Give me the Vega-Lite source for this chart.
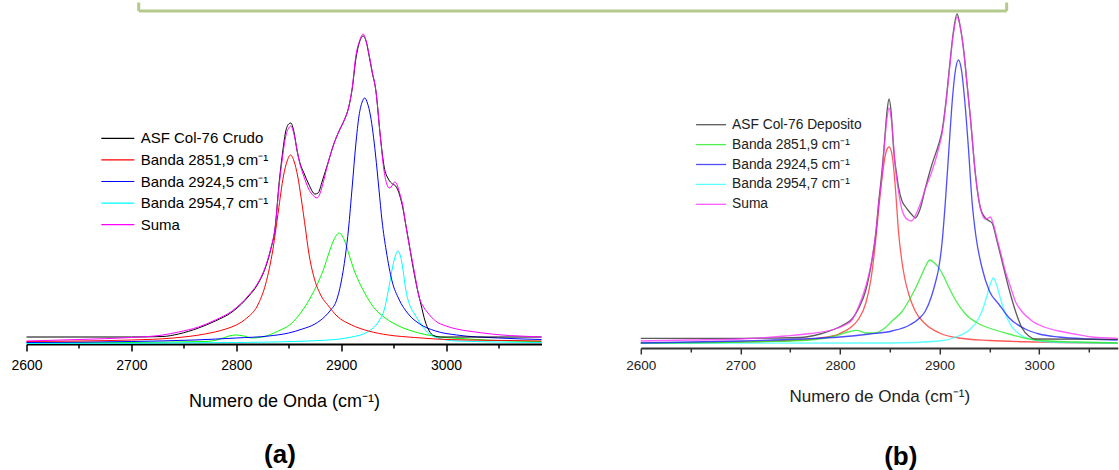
{
  "$schema": "https://vega.github.io/schema/vega-lite/v6.json",
  "padding": {"left": 10.5, "top": 0, "right": 0, "bottom": 0},
  "bounds": "flush",
  "spacing": 99.3,
  "config": {
    "font": "Liberation Sans",
    "view": {"stroke": null},
    "title": {"font": "Liberation Sans", "color": "#000000"},
    "legend": {"labelFont": "Liberation Sans"},
    "axis": {"labelFont": "Liberation Sans", "titleFont": "Liberation Sans", "grid": false}
  },
  "datasets": {
    "a": [
      {"s":"Banda 2898","x":2600,"y":1},{"s":"Banda 2898","x":2700,"y":1.5},{"s":"Banda 2898","x":2770,"y":2.5},{"s":"Banda 2898","x":2785,"y":5},{"s":"Banda 2898","x":2793,"y":8},{"s":"Banda 2898","x":2800,"y":9},{"s":"Banda 2898","x":2807,"y":8},{"s":"Banda 2898","x":2815,"y":6},{"s":"Banda 2898","x":2825,"y":7},{"s":"Banda 2898","x":2840,"y":13},{"s":"Banda 2898","x":2852,"y":20},{"s":"Banda 2898","x":2862.7,"y":33},{"s":"Banda 2898","x":2870,"y":45},{"s":"Banda 2898","x":2878.6,"y":63},{"s":"Banda 2898","x":2884,"y":77},{"s":"Banda 2898","x":2888,"y":90},{"s":"Banda 2898","x":2893,"y":104},{"s":"Banda 2898","x":2898,"y":111},{"s":"Banda 2898","x":2903,"y":104},{"s":"Banda 2898","x":2907.3,"y":90},{"s":"Banda 2898","x":2913,"y":72},{"s":"Banda 2898","x":2918,"y":60},{"s":"Banda 2898","x":2923,"y":50},{"s":"Banda 2898","x":2930,"y":38},{"s":"Banda 2898","x":2942,"y":26},{"s":"Banda 2898","x":2955,"y":18},{"s":"Banda 2898","x":2974,"y":11},{"s":"Banda 2898","x":2995,"y":7},{"s":"Banda 2898","x":3021,"y":5},{"s":"Banda 2898","x":3060,"y":3},{"s":"Banda 2898","x":3091,"y":2.5},

      {"s":"Banda 2954,7 cm⁻¹","x":2600,"y":0.5},{"s":"Banda 2954,7 cm⁻¹","x":2800,"y":1.5},{"s":"Banda 2954,7 cm⁻¹","x":2880,"y":3.5},{"s":"Banda 2954,7 cm⁻¹","x":2910,"y":7},{"s":"Banda 2954,7 cm⁻¹","x":2925,"y":12},{"s":"Banda 2954,7 cm⁻¹","x":2936,"y":23},{"s":"Banda 2954,7 cm⁻¹","x":2941,"y":34},{"s":"Banda 2954,7 cm⁻¹","x":2945.4,"y":56},{"s":"Banda 2954,7 cm⁻¹","x":2949,"y":77},{"s":"Banda 2954,7 cm⁻¹","x":2952,"y":89},{"s":"Banda 2954,7 cm⁻¹","x":2954,"y":93},{"s":"Banda 2954,7 cm⁻¹","x":2956.5,"y":88},{"s":"Banda 2954,7 cm⁻¹","x":2959,"y":74},{"s":"Banda 2954,7 cm⁻¹","x":2961.3,"y":56},{"s":"Banda 2954,7 cm⁻¹","x":2965,"y":40},{"s":"Banda 2954,7 cm⁻¹","x":2970,"y":30},{"s":"Banda 2954,7 cm⁻¹","x":2974,"y":23},{"s":"Banda 2954,7 cm⁻¹","x":2982,"y":12},{"s":"Banda 2954,7 cm⁻¹","x":2992,"y":6},{"s":"Banda 2954,7 cm⁻¹","x":3010,"y":3},{"s":"Banda 2954,7 cm⁻¹","x":3091,"y":1.5},

      {"s":"Banda 2924,5 cm⁻¹","x":2600,"y":1.5},{"s":"Banda 2924,5 cm⁻¹","x":2700,"y":2.5},{"s":"Banda 2924,5 cm⁻¹","x":2760,"y":4},{"s":"Banda 2924,5 cm⁻¹","x":2800,"y":6},{"s":"Banda 2924,5 cm⁻¹","x":2831,"y":8},{"s":"Banda 2924,5 cm⁻¹","x":2850,"y":11},{"s":"Banda 2924,5 cm⁻¹","x":2863,"y":15},{"s":"Banda 2924,5 cm⁻¹","x":2875,"y":20},{"s":"Banda 2924,5 cm⁻¹","x":2885,"y":28},{"s":"Banda 2924,5 cm⁻¹","x":2890,"y":34},{"s":"Banda 2924,5 cm⁻¹","x":2895,"y":42},{"s":"Banda 2924,5 cm⁻¹","x":2900,"y":62},{"s":"Banda 2924,5 cm⁻¹","x":2904,"y":88},{"s":"Banda 2924,5 cm⁻¹","x":2907,"y":115},{"s":"Banda 2924,5 cm⁻¹","x":2910.5,"y":157},{"s":"Banda 2924,5 cm⁻¹","x":2914,"y":200},{"s":"Banda 2924,5 cm⁻¹","x":2917,"y":228},{"s":"Banda 2924,5 cm⁻¹","x":2920,"y":242},{"s":"Banda 2924,5 cm⁻¹","x":2922.5,"y":246},{"s":"Banda 2924,5 cm⁻¹","x":2925,"y":241},{"s":"Banda 2924,5 cm⁻¹","x":2928,"y":228},{"s":"Banda 2924,5 cm⁻¹","x":2932.7,"y":190},{"s":"Banda 2924,5 cm⁻¹","x":2936,"y":155},{"s":"Banda 2924,5 cm⁻¹","x":2939,"y":123},{"s":"Banda 2924,5 cm⁻¹","x":2943,"y":93},{"s":"Banda 2924,5 cm⁻¹","x":2948.5,"y":63},{"s":"Banda 2924,5 cm⁻¹","x":2955,"y":45},{"s":"Banda 2924,5 cm⁻¹","x":2964,"y":30},{"s":"Banda 2924,5 cm⁻¹","x":2975,"y":20},{"s":"Banda 2924,5 cm⁻¹","x":2990,"y":13},{"s":"Banda 2924,5 cm⁻¹","x":3010,"y":9},{"s":"Banda 2924,5 cm⁻¹","x":3050,"y":6},{"s":"Banda 2924,5 cm⁻¹","x":3091,"y":4.5},

      {"s":"Banda 2851,9 cm⁻¹","x":2600,"y":2.5},{"s":"Banda 2851,9 cm⁻¹","x":2650,"y":3},{"s":"Banda 2851,9 cm⁻¹","x":2700,"y":4},{"s":"Banda 2851,9 cm⁻¹","x":2740,"y":6},{"s":"Banda 2851,9 cm⁻¹","x":2770,"y":10},{"s":"Banda 2851,9 cm⁻¹","x":2790,"y":15},{"s":"Banda 2851,9 cm⁻¹","x":2800,"y":19},{"s":"Banda 2851,9 cm⁻¹","x":2810,"y":26},{"s":"Banda 2851,9 cm⁻¹","x":2820,"y":38},{"s":"Banda 2851,9 cm⁻¹","x":2828,"y":60},{"s":"Banda 2851,9 cm⁻¹","x":2835,"y":95},{"s":"Banda 2851,9 cm⁻¹","x":2840,"y":132},{"s":"Banda 2851,9 cm⁻¹","x":2845,"y":168},{"s":"Banda 2851,9 cm⁻¹","x":2848.5,"y":183},{"s":"Banda 2851,9 cm⁻¹","x":2851.7,"y":189},{"s":"Banda 2851,9 cm⁻¹","x":2855,"y":183},{"s":"Banda 2851,9 cm⁻¹","x":2858.5,"y":168},{"s":"Banda 2851,9 cm⁻¹","x":2862,"y":145},{"s":"Banda 2851,9 cm⁻¹","x":2866,"y":115},{"s":"Banda 2851,9 cm⁻¹","x":2869,"y":92},{"s":"Banda 2851,9 cm⁻¹","x":2874,"y":67},{"s":"Banda 2851,9 cm⁻¹","x":2880,"y":50},{"s":"Banda 2851,9 cm⁻¹","x":2888,"y":38},{"s":"Banda 2851,9 cm⁻¹","x":2896,"y":28},{"s":"Banda 2851,9 cm⁻¹","x":2910,"y":19},{"s":"Banda 2851,9 cm⁻¹","x":2926,"y":13},{"s":"Banda 2851,9 cm⁻¹","x":2945,"y":9},{"s":"Banda 2851,9 cm⁻¹","x":2970,"y":6.5},{"s":"Banda 2851,9 cm⁻¹","x":2990,"y":5},{"s":"Banda 2851,9 cm⁻¹","x":3020,"y":4},{"s":"Banda 2851,9 cm⁻¹","x":3060,"y":3.5},{"s":"Banda 2851,9 cm⁻¹","x":3091,"y":3},

      {"s":"ASF Col-76 Crudo","x":2600,"y":7},{"s":"ASF Col-76 Crudo","x":2650,"y":7},{"s":"ASF Col-76 Crudo","x":2700,"y":7},{"s":"ASF Col-76 Crudo","x":2730,"y":7.5},{"s":"ASF Col-76 Crudo","x":2745,"y":10},{"s":"ASF Col-76 Crudo","x":2764,"y":16},{"s":"ASF Col-76 Crudo","x":2780,"y":23},{"s":"ASF Col-76 Crudo","x":2796,"y":32},{"s":"ASF Col-76 Crudo","x":2805,"y":40},{"s":"ASF Col-76 Crudo","x":2812,"y":48},{"s":"ASF Col-76 Crudo","x":2820,"y":59},{"s":"ASF Col-76 Crudo","x":2828,"y":77},{"s":"ASF Col-76 Crudo","x":2833,"y":95},{"s":"ASF Col-76 Crudo","x":2837,"y":116},{"s":"ASF Col-76 Crudo","x":2841,"y":163},{"s":"ASF Col-76 Crudo","x":2844,"y":190},{"s":"ASF Col-76 Crudo","x":2847,"y":212},{"s":"ASF Col-76 Crudo","x":2850,"y":220},{"s":"ASF Col-76 Crudo","x":2852,"y":221},{"s":"ASF Col-76 Crudo","x":2855,"y":212},{"s":"ASF Col-76 Crudo","x":2858,"y":193},{"s":"ASF Col-76 Crudo","x":2861,"y":180},{"s":"ASF Col-76 Crudo","x":2864.5,"y":171},{"s":"ASF Col-76 Crudo","x":2869,"y":160},{"s":"ASF Col-76 Crudo","x":2875,"y":150},{"s":"ASF Col-76 Crudo","x":2878,"y":151},{"s":"ASF Col-76 Crudo","x":2882,"y":163},{"s":"ASF Col-76 Crudo","x":2888,"y":183},{"s":"ASF Col-76 Crudo","x":2893,"y":200},{"s":"ASF Col-76 Crudo","x":2898,"y":213},{"s":"ASF Col-76 Crudo","x":2903,"y":224},{"s":"ASF Col-76 Crudo","x":2907,"y":236},{"s":"ASF Col-76 Crudo","x":2910.5,"y":255},{"s":"ASF Col-76 Crudo","x":2914,"y":285},{"s":"ASF Col-76 Crudo","x":2917.5,"y":302},{"s":"ASF Col-76 Crudo","x":2921,"y":308},{"s":"ASF Col-76 Crudo","x":2924,"y":302},{"s":"ASF Col-76 Crudo","x":2926.5,"y":289},{"s":"ASF Col-76 Crudo","x":2929.5,"y":272},{"s":"ASF Col-76 Crudo","x":2933,"y":254},{"s":"ASF Col-76 Crudo","x":2937.5,"y":206},{"s":"ASF Col-76 Crudo","x":2941,"y":177},{"s":"ASF Col-76 Crudo","x":2945,"y":165},{"s":"ASF Col-76 Crudo","x":2949,"y":160},{"s":"ASF Col-76 Crudo","x":2952,"y":158},{"s":"ASF Col-76 Crudo","x":2956,"y":148},{"s":"ASF Col-76 Crudo","x":2959,"y":135},{"s":"ASF Col-76 Crudo","x":2961,"y":123},{"s":"ASF Col-76 Crudo","x":2964,"y":105},{"s":"ASF Col-76 Crudo","x":2968,"y":80},{"s":"ASF Col-76 Crudo","x":2972,"y":58},{"s":"ASF Col-76 Crudo","x":2976,"y":40},{"s":"ASF Col-76 Crudo","x":2980,"y":23},{"s":"ASF Col-76 Crudo","x":2984,"y":13},{"s":"ASF Col-76 Crudo","x":2988,"y":8.5},{"s":"ASF Col-76 Crudo","x":2995,"y":7},{"s":"ASF Col-76 Crudo","x":3050,"y":7},{"s":"ASF Col-76 Crudo","x":3091,"y":7},

      {"s":"Suma","x":2600,"y":3},{"s":"Suma","x":2650,"y":4.5},{"s":"Suma","x":2700,"y":6.5},{"s":"Suma","x":2730,"y":9},{"s":"Suma","x":2745,"y":12},{"s":"Suma","x":2764,"y":17},{"s":"Suma","x":2780,"y":24},{"s":"Suma","x":2796,"y":33},{"s":"Suma","x":2805,"y":41},{"s":"Suma","x":2812,"y":49},{"s":"Suma","x":2820,"y":60},{"s":"Suma","x":2828,"y":78},{"s":"Suma","x":2833,"y":96},{"s":"Suma","x":2837,"y":116},{"s":"Suma","x":2841,"y":160},{"s":"Suma","x":2844,"y":186},{"s":"Suma","x":2847,"y":207},{"s":"Suma","x":2850,"y":216},{"s":"Suma","x":2852,"y":218},{"s":"Suma","x":2855,"y":210},{"s":"Suma","x":2858,"y":194},{"s":"Suma","x":2860,"y":183},{"s":"Suma","x":2863,"y":172},{"s":"Suma","x":2866,"y":163},{"s":"Suma","x":2869,"y":155},{"s":"Suma","x":2872,"y":150},{"s":"Suma","x":2875,"y":147},{"s":"Suma","x":2877,"y":146},{"s":"Suma","x":2880,"y":151},{"s":"Suma","x":2883,"y":162},{"s":"Suma","x":2888,"y":183},{"s":"Suma","x":2893,"y":200},{"s":"Suma","x":2898,"y":213},{"s":"Suma","x":2903,"y":224},{"s":"Suma","x":2907,"y":236},{"s":"Suma","x":2910.5,"y":256},{"s":"Suma","x":2914,"y":288},{"s":"Suma","x":2917.5,"y":303},{"s":"Suma","x":2921,"y":310},{"s":"Suma","x":2924,"y":302},{"s":"Suma","x":2926.5,"y":290},{"s":"Suma","x":2929.5,"y":273},{"s":"Suma","x":2933,"y":254},{"s":"Suma","x":2937.5,"y":206},{"s":"Suma","x":2940.5,"y":176},{"s":"Suma","x":2943.5,"y":160},{"s":"Suma","x":2946,"y":156},{"s":"Suma","x":2949,"y":159},{"s":"Suma","x":2951,"y":162},{"s":"Suma","x":2953,"y":160},{"s":"Suma","x":2956,"y":150},{"s":"Suma","x":2959,"y":137},{"s":"Suma","x":2961,"y":123},{"s":"Suma","x":2964,"y":104},{"s":"Suma","x":2968,"y":82},{"s":"Suma","x":2971,"y":65},{"s":"Suma","x":2974,"y":48},{"s":"Suma","x":2978,"y":38},{"s":"Suma","x":2982,"y":32},{"s":"Suma","x":2990,"y":23},{"s":"Suma","x":3000,"y":18},{"s":"Suma","x":3010,"y":15},{"s":"Suma","x":3021,"y":13},{"s":"Suma","x":3035,"y":11},{"s":"Suma","x":3053,"y":9},{"s":"Suma","x":3070,"y":8},{"s":"Suma","x":3091,"y":7}
    ],
    "b": [
      {"s":"Banda 2849","x":2600,"y":5},{"s":"Banda 2849","x":2700,"y":6},{"s":"Banda 2849","x":2750,"y":7.5},{"s":"Banda 2849","x":2780,"y":10},{"s":"Banda 2849","x":2798.8,"y":14},{"s":"Banda 2849","x":2810,"y":20},{"s":"Banda 2849","x":2818,"y":28},{"s":"Banda 2849","x":2826,"y":45},{"s":"Banda 2849","x":2831,"y":68},{"s":"Banda 2849","x":2835.6,"y":105},{"s":"Banda 2849","x":2839,"y":140},{"s":"Banda 2849","x":2842.5,"y":172},{"s":"Banda 2849","x":2846,"y":195},{"s":"Banda 2849","x":2849.3,"y":201},{"s":"Banda 2849","x":2852.5,"y":192},{"s":"Banda 2849","x":2855.5,"y":162},{"s":"Banda 2849","x":2859,"y":114},{"s":"Banda 2849","x":2862,"y":88},{"s":"Banda 2849","x":2865,"y":70},{"s":"Banda 2849","x":2869,"y":54},{"s":"Banda 2849","x":2875,"y":38},{"s":"Banda 2849","x":2885.8,"y":24},{"s":"Banda 2849","x":2900,"y":15},{"s":"Banda 2849","x":2919,"y":10},{"s":"Banda 2849","x":2950,"y":7.5},{"s":"Banda 2849","x":3000,"y":6},{"s":"Banda 2849","x":3079,"y":5},

      {"s":"Banda 2954,7 cm⁻¹","x":2600,"y":4.7},{"s":"Banda 2954,7 cm⁻¹","x":2850,"y":5},{"s":"Banda 2954,7 cm⁻¹","x":2900,"y":7},{"s":"Banda 2954,7 cm⁻¹","x":2919,"y":12},{"s":"Banda 2954,7 cm⁻¹","x":2930,"y":18},{"s":"Banda 2954,7 cm⁻¹","x":2937,"y":26},{"s":"Banda 2954,7 cm⁻¹","x":2942.7,"y":37},{"s":"Banda 2954,7 cm⁻¹","x":2947,"y":50},{"s":"Banda 2954,7 cm⁻¹","x":2951,"y":64},{"s":"Banda 2954,7 cm⁻¹","x":2954.1,"y":70},{"s":"Banda 2954,7 cm⁻¹","x":2957,"y":64},{"s":"Banda 2954,7 cm⁻¹","x":2961,"y":50},{"s":"Banda 2954,7 cm⁻¹","x":2966.2,"y":34},{"s":"Banda 2954,7 cm⁻¹","x":2972,"y":22},{"s":"Banda 2954,7 cm⁻¹","x":2980,"y":14},{"s":"Banda 2954,7 cm⁻¹","x":2990,"y":9},{"s":"Banda 2954,7 cm⁻¹","x":3010,"y":6},{"s":"Banda 2954,7 cm⁻¹","x":3079,"y":5},

      {"s":"Banda 2851,9 cm⁻¹","x":2600,"y":5},{"s":"Banda 2851,9 cm⁻¹","x":2700,"y":6},{"s":"Banda 2851,9 cm⁻¹","x":2770,"y":8},{"s":"Banda 2851,9 cm⁻¹","x":2795,"y":12},{"s":"Banda 2851,9 cm⁻¹","x":2808,"y":16},{"s":"Banda 2851,9 cm⁻¹","x":2817,"y":17.7},{"s":"Banda 2851,9 cm⁻¹","x":2826,"y":15},{"s":"Banda 2851,9 cm⁻¹","x":2835,"y":15},{"s":"Banda 2851,9 cm⁻¹","x":2845,"y":20},{"s":"Banda 2851,9 cm⁻¹","x":2852.3,"y":27},{"s":"Banda 2851,9 cm⁻¹","x":2862,"y":36},{"s":"Banda 2851,9 cm⁻¹","x":2869,"y":47},{"s":"Banda 2851,9 cm⁻¹","x":2876,"y":60},{"s":"Banda 2851,9 cm⁻¹","x":2882,"y":73},{"s":"Banda 2851,9 cm⁻¹","x":2886,"y":82},{"s":"Banda 2851,9 cm⁻¹","x":2890.2,"y":88},{"s":"Banda 2851,9 cm⁻¹","x":2895,"y":85},{"s":"Banda 2851,9 cm⁻¹","x":2900,"y":79},{"s":"Banda 2851,9 cm⁻¹","x":2904,"y":72},{"s":"Banda 2851,9 cm⁻¹","x":2909.2,"y":61},{"s":"Banda 2851,9 cm⁻¹","x":2916,"y":48},{"s":"Banda 2851,9 cm⁻¹","x":2926,"y":34},{"s":"Banda 2851,9 cm⁻¹","x":2938,"y":25},{"s":"Banda 2851,9 cm⁻¹","x":2952.7,"y":19},{"s":"Banda 2851,9 cm⁻¹","x":2970,"y":14},{"s":"Banda 2851,9 cm⁻¹","x":2985,"y":10},{"s":"Banda 2851,9 cm⁻¹","x":3010,"y":7},{"s":"Banda 2851,9 cm⁻¹","x":3040,"y":6},{"s":"Banda 2851,9 cm⁻¹","x":3079,"y":5},

      {"s":"Banda 2924,5 cm⁻¹","x":2600,"y":5},{"s":"Banda 2924,5 cm⁻¹","x":2700,"y":7},{"s":"Banda 2924,5 cm⁻¹","x":2760,"y":9},{"s":"Banda 2924,5 cm⁻¹","x":2800,"y":11},{"s":"Banda 2924,5 cm⁻¹","x":2830,"y":14},{"s":"Banda 2924,5 cm⁻¹","x":2852.3,"y":17},{"s":"Banda 2924,5 cm⁻¹","x":2870,"y":23},{"s":"Banda 2924,5 cm⁻¹","x":2880,"y":30},{"s":"Banda 2924,5 cm⁻¹","x":2885.8,"y":37},{"s":"Banda 2924,5 cm⁻¹","x":2892,"y":52},{"s":"Banda 2924,5 cm⁻¹","x":2896,"y":66},{"s":"Banda 2924,5 cm⁻¹","x":2899.2,"y":80},{"s":"Banda 2924,5 cm⁻¹","x":2902.5,"y":105},{"s":"Banda 2924,5 cm⁻¹","x":2905.9,"y":147},{"s":"Banda 2924,5 cm⁻¹","x":2909.5,"y":200},{"s":"Banda 2924,5 cm⁻¹","x":2913,"y":250},{"s":"Banda 2924,5 cm⁻¹","x":2916,"y":278},{"s":"Banda 2924,5 cm⁻¹","x":2919,"y":288},{"s":"Banda 2924,5 cm⁻¹","x":2922,"y":278},{"s":"Banda 2924,5 cm⁻¹","x":2925.5,"y":245},{"s":"Banda 2924,5 cm⁻¹","x":2929,"y":200},{"s":"Banda 2924,5 cm⁻¹","x":2932.6,"y":147},{"s":"Banda 2924,5 cm⁻¹","x":2936.5,"y":112},{"s":"Banda 2924,5 cm⁻¹","x":2942.7,"y":80},{"s":"Banda 2924,5 cm⁻¹","x":2950,"y":57},{"s":"Banda 2924,5 cm⁻¹","x":2959.4,"y":44},{"s":"Banda 2924,5 cm⁻¹","x":2970,"y":30},{"s":"Banda 2924,5 cm⁻¹","x":2986,"y":19},{"s":"Banda 2924,5 cm⁻¹","x":3000,"y":14},{"s":"Banda 2924,5 cm⁻¹","x":3020,"y":11},{"s":"Banda 2924,5 cm⁻¹","x":3050,"y":9},{"s":"Banda 2924,5 cm⁻¹","x":3079,"y":8},

      {"s":"ASF Col-76 Deposito","x":2600,"y":9.7},{"s":"ASF Col-76 Deposito","x":2700,"y":9.7},{"s":"ASF Col-76 Deposito","x":2760,"y":10.5},{"s":"ASF Col-76 Deposito","x":2780,"y":14},{"s":"ASF Col-76 Deposito","x":2795,"y":19},{"s":"ASF Col-76 Deposito","x":2805,"y":24},{"s":"ASF Col-76 Deposito","x":2812,"y":29},{"s":"ASF Col-76 Deposito","x":2819,"y":40},{"s":"ASF Col-76 Deposito","x":2826,"y":58},{"s":"ASF Col-76 Deposito","x":2832,"y":87},{"s":"ASF Col-76 Deposito","x":2836,"y":115},{"s":"ASF Col-76 Deposito","x":2839,"y":147},{"s":"ASF Col-76 Deposito","x":2842,"y":175},{"s":"ASF Col-76 Deposito","x":2844,"y":197},{"s":"ASF Col-76 Deposito","x":2847.3,"y":237},{"s":"ASF Col-76 Deposito","x":2849.3,"y":249},{"s":"ASF Col-76 Deposito","x":2851.3,"y":237},{"s":"ASF Col-76 Deposito","x":2854,"y":197},{"s":"ASF Col-76 Deposito","x":2857,"y":173},{"s":"ASF Col-76 Deposito","x":2859,"y":160},{"s":"ASF Col-76 Deposito","x":2862.3,"y":147},{"s":"ASF Col-76 Deposito","x":2866,"y":141},{"s":"ASF Col-76 Deposito","x":2869,"y":137},{"s":"ASF Col-76 Deposito","x":2872.5,"y":133},{"s":"ASF Col-76 Deposito","x":2875.8,"y":130},{"s":"ASF Col-76 Deposito","x":2878.5,"y":134},{"s":"ASF Col-76 Deposito","x":2880.8,"y":140},{"s":"ASF Col-76 Deposito","x":2885.8,"y":160},{"s":"ASF Col-76 Deposito","x":2892.5,"y":184},{"s":"ASF Col-76 Deposito","x":2899.2,"y":204},{"s":"ASF Col-76 Deposito","x":2902.5,"y":217},{"s":"ASF Col-76 Deposito","x":2906.5,"y":247},{"s":"ASF Col-76 Deposito","x":2909.9,"y":280},{"s":"ASF Col-76 Deposito","x":2913.6,"y":314},{"s":"ASF Col-76 Deposito","x":2917.6,"y":334},{"s":"ASF Col-76 Deposito","x":2921,"y":320},{"s":"ASF Col-76 Deposito","x":2924.3,"y":297},{"s":"ASF Col-76 Deposito","x":2927.6,"y":264},{"s":"ASF Col-76 Deposito","x":2931,"y":230},{"s":"ASF Col-76 Deposito","x":2936,"y":174},{"s":"ASF Col-76 Deposito","x":2941,"y":140},{"s":"ASF Col-76 Deposito","x":2946,"y":130},{"s":"ASF Col-76 Deposito","x":2950,"y":127},{"s":"ASF Col-76 Deposito","x":2952.7,"y":125},{"s":"ASF Col-76 Deposito","x":2957.7,"y":107},{"s":"ASF Col-76 Deposito","x":2962.7,"y":87},{"s":"ASF Col-76 Deposito","x":2969.5,"y":60},{"s":"ASF Col-76 Deposito","x":2976.2,"y":37},{"s":"ASF Col-76 Deposito","x":2982.8,"y":20},{"s":"ASF Col-76 Deposito","x":2989.6,"y":12},{"s":"ASF Col-76 Deposito","x":2996,"y":9},{"s":"ASF Col-76 Deposito","x":3079,"y":8.7},

      {"s":"Suma","x":2600,"y":7},{"s":"Suma","x":2650,"y":8},{"s":"Suma","x":2700,"y":9},{"s":"Suma","x":2745,"y":12},{"s":"Suma","x":2770,"y":14.5},{"s":"Suma","x":2795,"y":19},{"s":"Suma","x":2805,"y":23},{"s":"Suma","x":2812,"y":28},{"s":"Suma","x":2819,"y":42},{"s":"Suma","x":2826,"y":62},{"s":"Suma","x":2832,"y":88},{"s":"Suma","x":2836,"y":115},{"s":"Suma","x":2839,"y":145},{"s":"Suma","x":2842,"y":170},{"s":"Suma","x":2844,"y":195},{"s":"Suma","x":2847,"y":228},{"s":"Suma","x":2849.3,"y":240},{"s":"Suma","x":2852,"y":225},{"s":"Suma","x":2855.7,"y":180},{"s":"Suma","x":2859,"y":155},{"s":"Suma","x":2862.3,"y":138},{"s":"Suma","x":2866,"y":130},{"s":"Suma","x":2868.5,"y":128},{"s":"Suma","x":2871.4,"y":127},{"s":"Suma","x":2874,"y":129},{"s":"Suma","x":2876,"y":133},{"s":"Suma","x":2881,"y":145},{"s":"Suma","x":2886,"y":160},{"s":"Suma","x":2892.5,"y":177},{"s":"Suma","x":2899.2,"y":200},{"s":"Suma","x":2902.5,"y":214},{"s":"Suma","x":2906.5,"y":245},{"s":"Suma","x":2909.9,"y":278},{"s":"Suma","x":2913.6,"y":312},{"s":"Suma","x":2917.6,"y":331},{"s":"Suma","x":2921,"y":320},{"s":"Suma","x":2924.3,"y":297},{"s":"Suma","x":2927.6,"y":264},{"s":"Suma","x":2931,"y":230},{"s":"Suma","x":2936,"y":174},{"s":"Suma","x":2941,"y":140},{"s":"Suma","x":2946,"y":129},{"s":"Suma","x":2949,"y":130},{"s":"Suma","x":2951,"y":131},{"s":"Suma","x":2954,"y":124},{"s":"Suma","x":2958,"y":108},{"s":"Suma","x":2962.7,"y":90},{"s":"Suma","x":2966,"y":77},{"s":"Suma","x":2971,"y":62},{"s":"Suma","x":2976,"y":47},{"s":"Suma","x":2984,"y":35},{"s":"Suma","x":2993,"y":27},{"s":"Suma","x":3005,"y":21},{"s":"Suma","x":3020,"y":17},{"s":"Suma","x":3035,"y":14},{"s":"Suma","x":3053,"y":11},{"s":"Suma","x":3079,"y":9.7}
    ]
  },
  "hconcat": [
    {
      "width": 515,
      "height": 331,
      "title": {"text": "(a)", "orient": "bottom", "fontSize": 26, "fontWeight": "bold", "offset": 32, "dx": -4},
      "data": {"name": "a"},
      "encoding": {
        "x": {
          "field": "x", "type": "quantitative",
          "scale": {"domain": [2600, 3091], "nice": false, "zero": false},
          "axis": {
            "title": "Numero de Onda (cm⁻¹)",
            "values": [2600, 2650, 2700, 2750, 2800, 2850, 2900, 2950, 3000, 3050],
            "format": "d",
            "labelExpr": "datum.value % 100 === 0 ? datum.label : ''",
            "labelOverlap": false, "labelFlush": false,
            "tickSize": {"condition": {"test": "datum.value % 100 === 0", "value": 7}, "value": 4},
            "domainColor": "#000000", "domainWidth": 2,
            "tickColor": "#000000", "tickWidth": 1.5,
            "labelFontSize": 14, "labelColor": "#000000", "labelPadding": 7,
            "titleFontSize": 18, "titleFontWeight": "normal", "titleColor": "#000000", "titlePadding": 20
          }
        },
        "y": {"field": "y", "type": "quantitative", "scale": {"domain": [0, 331], "nice": false}, "axis": null}
      },
      "layer": [
        {
          "transform": [{"filter": "datum.s === 'Banda 2898'"}],
          "mark": {"type": "line", "color": "#00ff00", "strokeWidth": 1, "interpolate": "monotone"}
        },
        {
          "transform": [{"filter": "datum.s !== 'Banda 2898'"}],
          "mark": {"type": "line", "strokeWidth": 1, "interpolate": "monotone"},
          "encoding": {
            "color": {
              "field": "s", "type": "nominal",
              "scale": {
                "domain": ["ASF Col-76 Crudo", "Banda 2851,9 cm⁻¹", "Banda 2924,5 cm⁻¹", "Banda 2954,7 cm⁻¹", "Suma"],
                "range": ["#000000", "#ff0000", "#0000ff", "#00ffff", "#ff00ff"]
              },
              "legend": {
                "title": null, "orient": "none", "legendX": 83.8, "legendY": 117.8,
                "symbolType": "M-5.5,0H5.5", "symbolSize": 36, "symbolStrokeWidth": 1.2,
                "labelFontSize": 15, "labelColor": "#000000", "labelOffset": 15.4,
                "rowPadding": 5.6, "labelLimit": 300
              }
            }
          }
        },
        {
          "transform": [{"filter": "datum.s === 'Suma' && datum.x === 2600"}],
          "mark": {"type": "rule", "color": "#b5c98d", "strokeWidth": 3, "clip": false},
          "encoding": {"x": {"datum": 2707}, "x2": {"datum": 3534.5}, "y": {"datum": 333}}
        },
        {
          "transform": [{"filter": "datum.s === 'Suma' && datum.x === 2600"}],
          "mark": {"type": "rule", "color": "#b5c98d", "strokeWidth": 3, "clip": false},
          "encoding": {"x": {"datum": 2707}, "y": {"datum": 333}, "y2": {"datum": 341.5}}
        },
        {
          "transform": [{"filter": "datum.s === 'Suma' && datum.x === 2600"}],
          "mark": {"type": "rule", "color": "#b5c98d", "strokeWidth": 3, "clip": false},
          "encoding": {"x": {"datum": 3534.5}, "y": {"datum": 333}, "y2": {"datum": 341.5}}
        }
      ]
    },
    {
      "width": 477,
      "height": 335,
      "title": {"text": "(b)", "orient": "bottom", "fontSize": 26, "fontWeight": "bold", "offset": 39, "dx": 21.5},
      "data": {"name": "b"},
      "encoding": {
        "x": {
          "field": "x", "type": "quantitative",
          "scale": {"domain": [2600, 3079], "nice": false, "zero": false},
          "axis": {
            "title": "Numero de Onda (cm⁻¹)",
            "values": [2600, 2650, 2700, 2750, 2800, 2850, 2900, 2950, 3000, 3050],
            "format": "d",
            "labelExpr": "datum.value % 100 === 0 ? datum.label : ''",
            "labelOverlap": false, "labelFlush": false,
            "tickSize": {"condition": {"test": "datum.value % 100 === 0", "value": 6}, "value": 4},
            "domainColor": "#333333", "domainWidth": 1.8,
            "tickColor": "#333333", "tickWidth": 1.5,
            "labelFontSize": 13.5, "labelColor": "#222222", "labelPadding": 4,
            "titleFontSize": 17, "titleFontWeight": "normal", "titleColor": "#222222", "titlePadding": 17
          }
        },
        "y": {"field": "y", "type": "quantitative", "scale": {"domain": [0, 335], "nice": false}, "axis": null}
      },
      "layer": [
        {
          "transform": [{"filter": "datum.s === 'Banda 2849'"}],
          "mark": {"type": "line", "color": "#ff3030", "strokeWidth": 1.3, "opacity": 0.8, "interpolate": "monotone"}
        },
        {
          "transform": [{"filter": "datum.s !== 'Banda 2849'"}],
          "mark": {"type": "line", "strokeWidth": 1.3, "opacity": 0.8, "interpolate": "monotone"},
          "encoding": {
            "color": {
              "field": "s", "type": "nominal",
              "scale": {
                "domain": ["ASF Col-76 Deposito", "Banda 2851,9 cm⁻¹", "Banda 2924,5 cm⁻¹", "Banda 2954,7 cm⁻¹", "Suma"],
                "range": ["#333333", "#22ee22", "#2222ff", "#33ffff", "#ff33ff"]
              },
              "legend": {
                "title": null, "orient": "none", "legendX": 63.4, "legendY": 104.8,
                "symbolType": "M-5,0H5", "symbolSize": 36, "symbolStrokeWidth": 1.3,
                "labelFontSize": 13.8, "labelColor": "#222222", "labelOffset": 14,
                "rowPadding": 4.9, "labelLimit": 300
              }
            }
          }
        }
      ]
    }
  ],
  "resolve": {
    "scale": {"x": "independent", "y": "independent", "color": "independent"},
    "legend": {"color": "independent"}
  }
}
